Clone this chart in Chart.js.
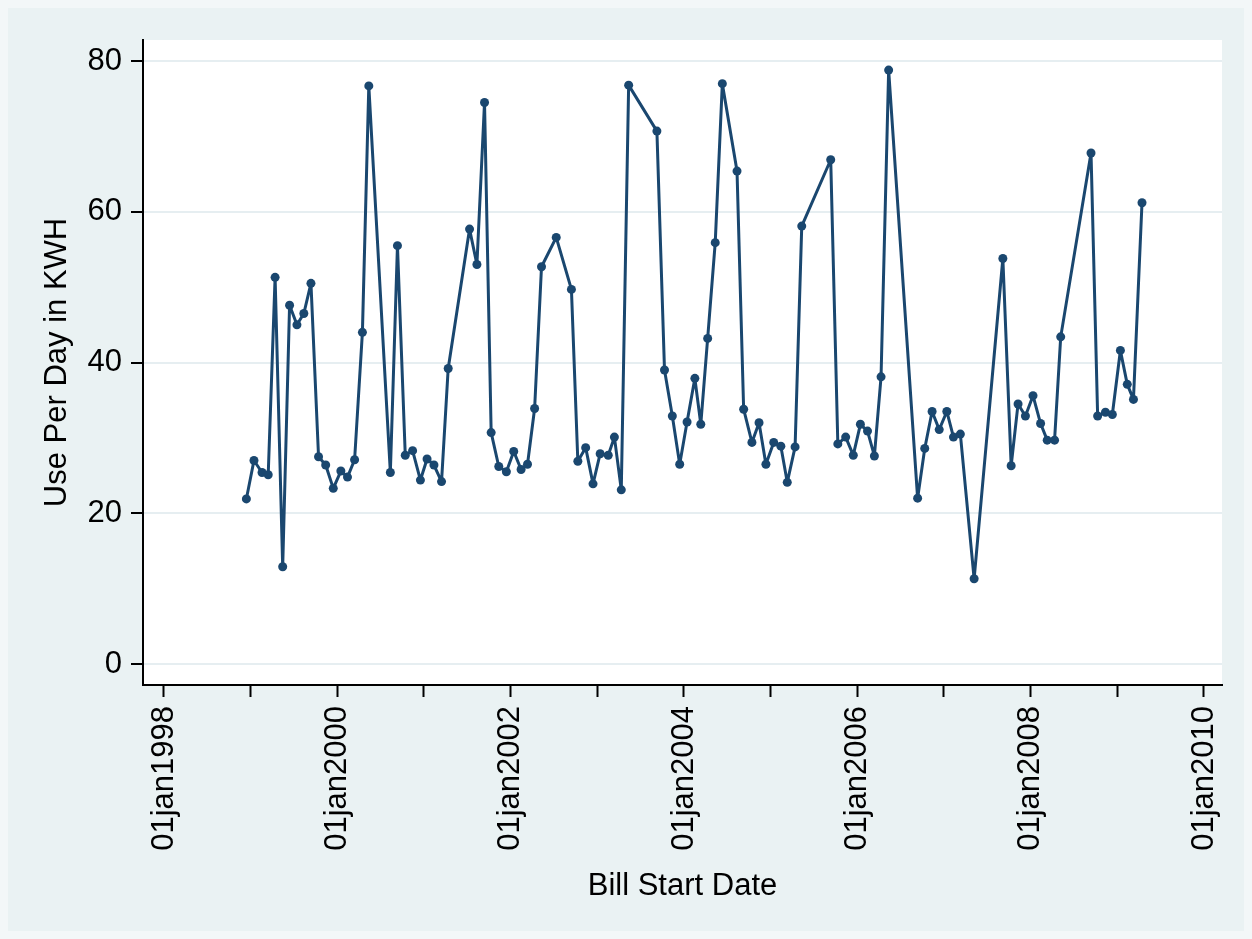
<!DOCTYPE html>
<head>
    <title>electricity use</title>
    <script src="https://cdn.jsdelivr.net/npm/chart.js@4.4.0/dist/chart.umd.min.js"></script>
    <style>
        body { margin: 0; background: #fff; }
    </style>
</head>
<body>
    <canvas id="chart" width="1252" height="939"></canvas>
    <script>
// bill start dates and daily use (kWh per day)
var billDates = [
    '1998-12-14','1999-01-15','1999-02-18','1999-03-16','1999-04-14','1999-05-16','1999-06-14','1999-07-15','1999-08-13','1999-09-12',
    '1999-10-14','1999-11-13','1999-12-15','2000-01-16','2000-02-13','2000-03-14','2000-04-16','2000-05-13','2000-08-12','2000-09-11',
    '2000-10-14','2000-11-14','2000-12-17','2001-01-14','2001-02-12','2001-03-16','2001-04-13','2001-07-12','2001-08-12','2001-09-13',
    '2001-10-11','2001-11-12','2001-12-14','2002-01-14','2002-02-14','2002-03-13','2002-04-12','2002-05-11','2002-07-12','2002-09-14',
    '2002-10-11','2002-11-13','2002-12-14','2003-01-13','2003-02-16','2003-03-14','2003-04-12','2003-05-13','2003-09-09','2003-10-11',
    '2003-11-13','2003-12-14','2004-01-14','2004-02-16','2004-03-12','2004-04-10','2004-05-12','2004-06-11','2004-08-12','2004-09-09',
    '2004-10-14','2004-11-13','2004-12-12','2005-01-14','2005-02-13','2005-03-12','2005-04-14','2005-05-12','2005-09-11','2005-10-11',
    '2005-11-13','2005-12-15','2006-01-14','2006-02-13','2006-03-14','2006-04-11','2006-05-13','2006-09-12','2006-10-12','2006-11-12',
    '2006-12-12','2007-01-13','2007-02-10','2007-03-11','2007-05-08','2007-09-06','2007-10-11','2007-11-09','2007-12-10','2008-01-11',
    '2008-02-12','2008-03-11','2008-04-11','2008-05-07','2008-09-12','2008-10-10','2008-11-12','2008-12-11','2009-01-14','2009-02-12',
    '2009-03-10','2009-04-15'
];
var usePerDay = [
    21.9, 27.0, 25.4, 25.1, 51.3, 12.9, 47.6, 45.0, 46.5, 50.5,
    27.5, 26.4, 23.3, 25.6, 24.8, 27.1, 44.0, 76.7, 25.4, 55.5,
    27.7, 28.3, 24.4, 27.2, 26.4, 24.2, 39.2, 57.7, 53.0, 74.5,
    30.7, 26.2, 25.5, 28.2, 25.8, 26.5, 33.9, 52.7, 56.6, 49.7,
    26.9, 28.7, 23.9, 27.9, 27.7, 30.1, 23.1, 76.8, 70.7, 39.0,
    32.9, 26.5, 32.1, 37.9, 31.8, 43.2, 55.9, 77.0, 65.4, 33.8,
    29.4, 32.0, 26.5, 29.4, 28.9, 24.1, 28.8, 58.1, 66.9, 29.2,
    30.1, 27.7, 31.8, 30.9, 27.6, 38.1, 78.8, 22.0, 28.6, 33.5,
    31.1, 33.5, 30.1, 30.5, 11.3, 53.8, 26.3, 34.5, 32.9, 35.6,
    31.9, 29.7, 29.7, 43.4, 67.8, 32.9, 33.4, 33.1, 41.6, 37.1,
    35.1, 61.2
];
var yTicks = [0, 20, 40, 60, 80];
var xTickYears = [1998,1999,2000,2001,2002,2003,2004,2005,2006,2007,2008,2009,2010];
var xLabelYears = [1998, 2000, 2002, 2004, 2006, 2008, 2010];

// date string -> fractional year
function decYear(s) {
    var p = s.split('-').map(Number);
    var start = Date.UTC(p[0], 0, 1), end = Date.UTC(p[0] + 1, 0, 1);
    return p[0] + (Date.UTC(p[0], p[1] - 1, p[2]) - start) / (end - start);
}

var points = billDates.map(function (d, i) { return {x: decYear(d), y: usePerDay[i]}; });

var bgPlugin = {
    id: 'bg',
    beforeDraw: function (chart) {
        var c = chart.ctx, a = chart.chartArea;
        c.save();
        c.fillStyle = '#f3f7f8';
        c.fillRect(0, 0, chart.width, chart.height);
        c.fillStyle = '#eaf2f3';
        c.fillRect(8, 8, chart.width - 16, chart.height - 16);
        c.fillStyle = '#ffffff';
        c.fillRect(a.left, a.top, a.right - a.left, a.bottom - a.top);
        c.restore();
    }
};

Chart.defaults.font.family = "'Liberation Sans', Arial, sans-serif";
Chart.defaults.color = '#000';

var ctx = document.getElementById('chart').getContext('2d');
var myChart = new Chart(ctx, {
    type: 'line',
    data: {
        datasets: [{
            data: points,
            borderColor: '#1a476f',
            borderWidth: 3,
            borderJoinStyle: 'round',
            borderCapStyle: 'round',
            pointRadius: 4.5,
            pointBackgroundColor: '#1a476f',
            pointBorderWidth: 0,
            tension: 0
        }]
    },
    options: {
        responsive: false,
        devicePixelRatio: 1,
        animation: false,
        layout: { padding: { top: 40, right: 30, left: 0, bottom: 0 } },
        plugins: { legend: { display: false }, tooltip: { enabled: false } },
        scales: {
            x: {
                type: 'linear',
                min: 1997.758,
                max: 2010.208,
                afterBuildTicks: function (s) { s.ticks = xTickYears.map(function (v) { return {value: v}; }); },
                afterFit: function (s) { s.height = 939 - 685; },
                ticks: {
                    autoSkip: false,
                    minRotation: 90,
                    maxRotation: 90,
                    padding: 9,
                    font: { size: 31 },
                    callback: function (v) { return xLabelYears.indexOf(v) >= 0 ? '01jan' + v : ''; }
                },
                grid: { drawOnChartArea: false, tickColor: '#000', tickLength: 12, tickWidth: 2 },
                border: { color: '#000', width: 2 },
                title: { display: true, text: 'Bill Start Date', font: { size: 31 }, padding: { top: 0, bottom: 34 } }
            },
            y: {
                type: 'linear',
                min: -2.79,
                max: 82.79,
                afterBuildTicks: function (s) { s.ticks = yTicks.map(function (v) { return {value: v}; }); },
                afterFit: function (s) { s.width = 143; },
                ticks: { padding: 9, font: { size: 31 } },
                grid: { color: '#e6eef1', lineWidth: 2, tickColor: '#000', tickLength: 12, tickWidth: 2 },
                border: { color: '#000', width: 2 },
                title: { display: true, text: 'Use Per Day in KWH', font: { size: 31 }, padding: { top: 39, bottom: 0 } }
            }
        }
    },
    plugins: [bgPlugin]
});
    </script>
</body>
